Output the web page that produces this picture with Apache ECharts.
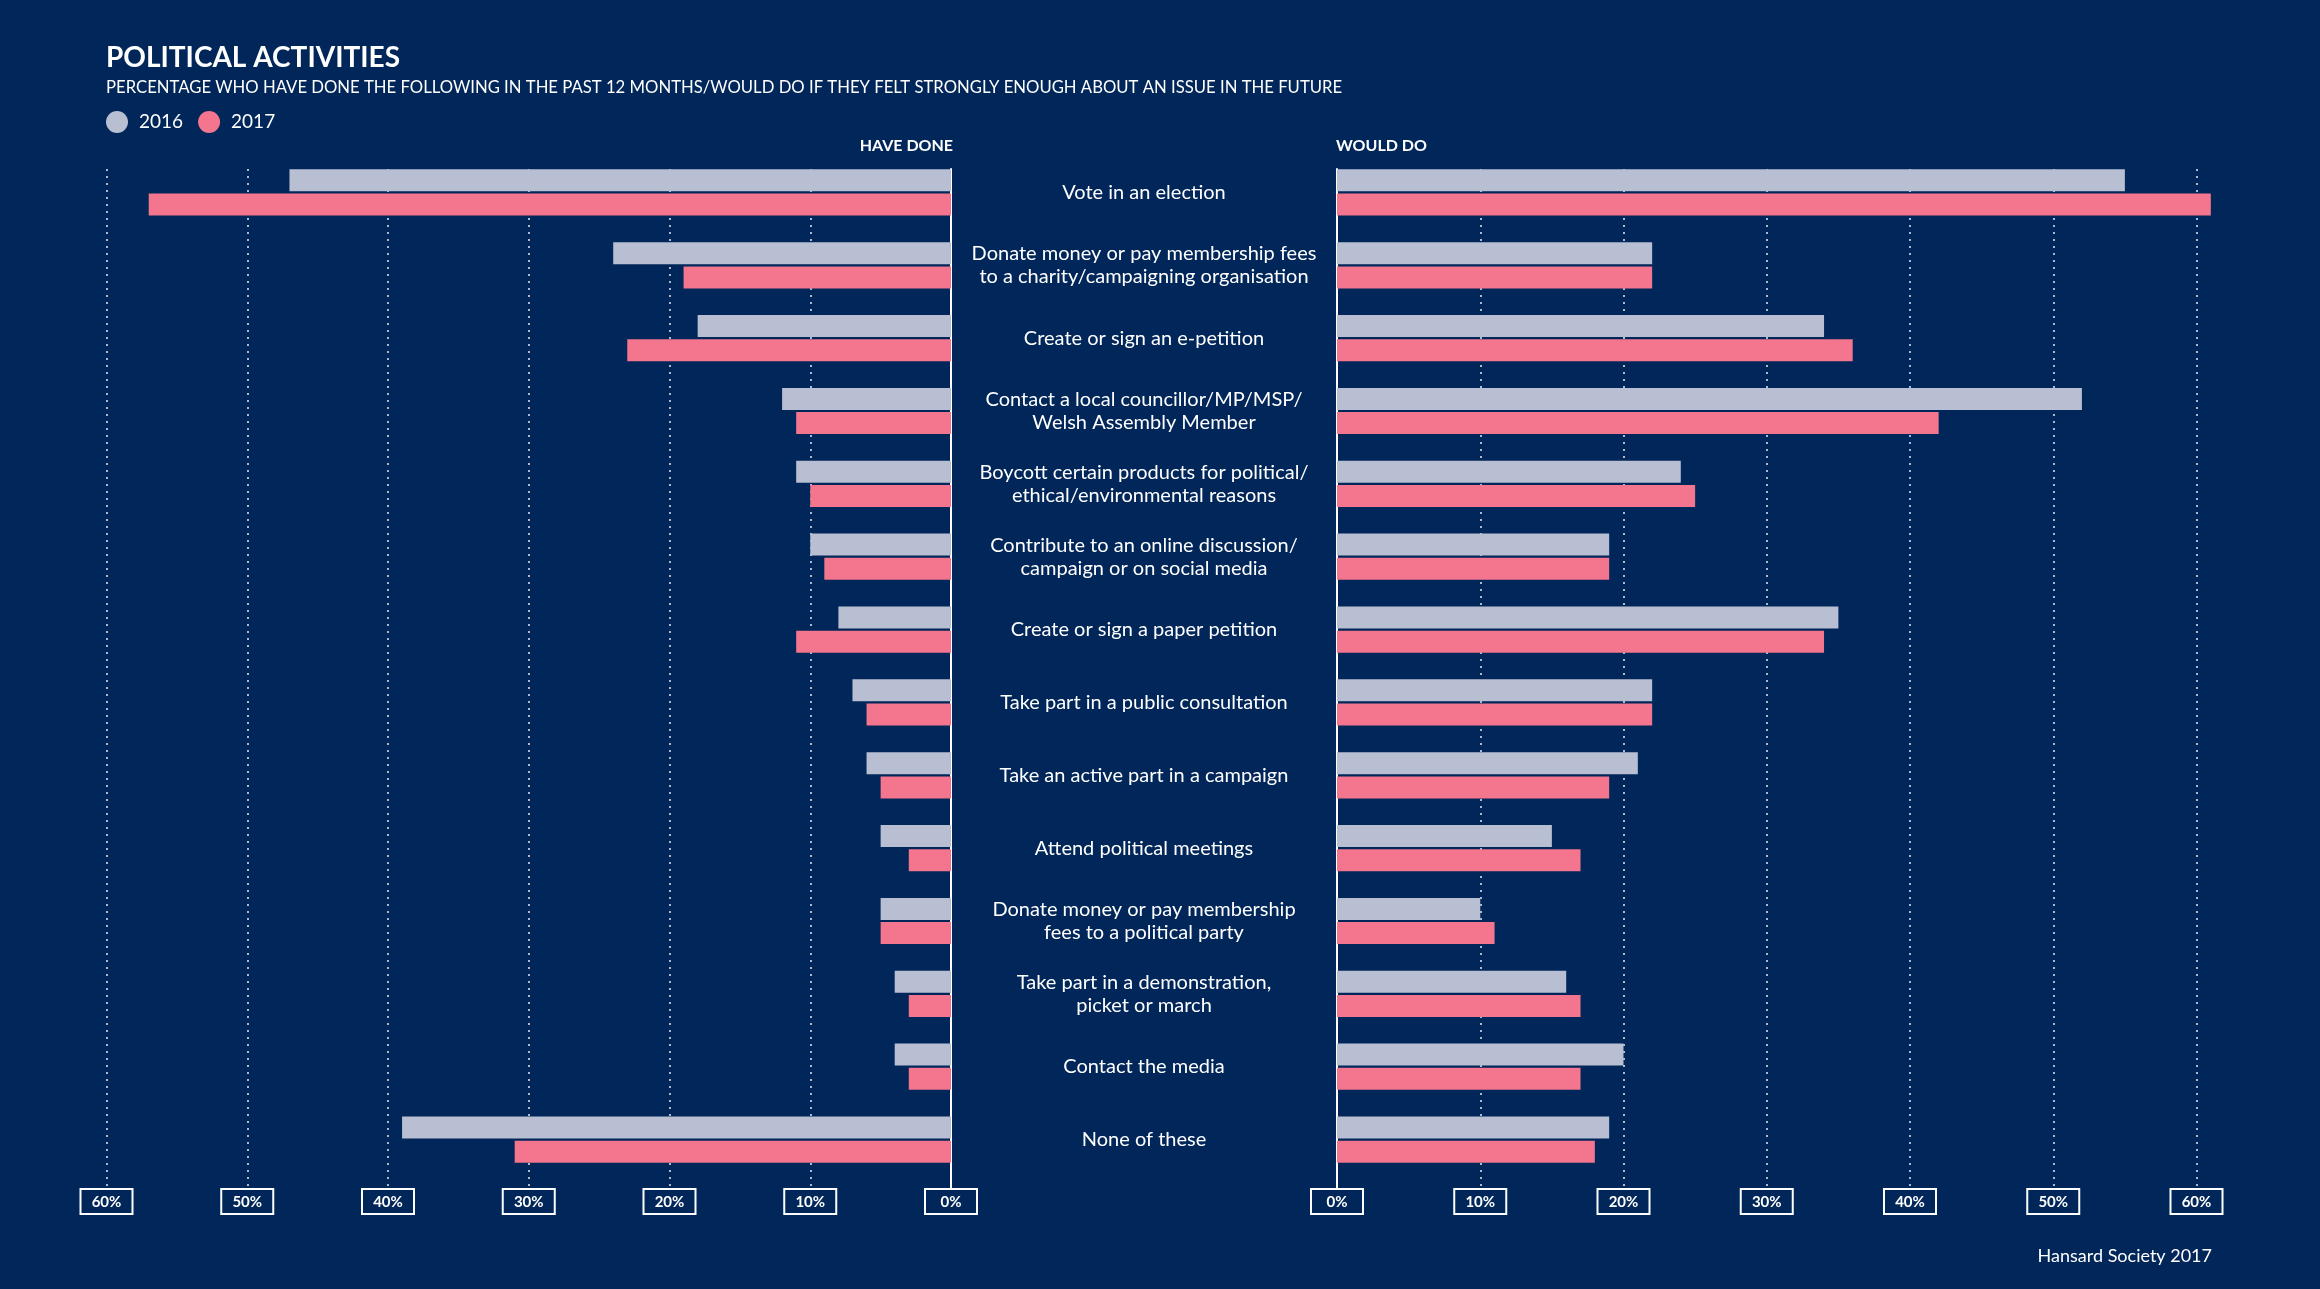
<!DOCTYPE html>
<html>
<head>
<meta charset="utf-8">
<script src="https://cdn.jsdelivr.net/npm/echarts@6/dist/echarts.min.js"></script>
<style>
html,body{margin:0;padding:0;background:#012659;}
#chart{width:2320px;height:1289px;}
</style>
</head>
<body>
<div id="chart"></div>
<script>
const categories = [
  'Vote in an election',
  'Donate money or pay membership fees\nto a charity/campaigning organisation',
  'Create or sign an e-petition',
  'Contact a local councillor/MP/MSP/\nWelsh Assembly Member',
  'Boycott certain products for political/\nethical/environmental reasons',
  'Contribute to an online discussion/\ncampaign or on social media',
  'Create or sign a paper petition',
  'Take part in a public consultation',
  'Take an active part in a campaign',
  'Attend political meetings',
  'Donate money or pay membership\nfees to a political party',
  'Take part in a demonstration,\npicket or march',
  'Contact the media',
  'None of these'
];
const haveDone2016 = [47, 24, 18, 12, 11, 10, 8, 7, 6, 5, 5, 4, 4, 39];
const haveDone2017 = [57, 19, 23, 11, 10, 9, 11, 6, 5, 3, 5, 3, 3, 31];
const wouldDo2016 = [55, 22, 34, 52, 24, 19, 35, 22, 21, 15, 10, 16, 20, 19];
const wouldDo2017 = [61, 22, 36, 42, 25, 19, 34, 22, 19, 17, 11, 17, 17, 18];
const seriesNames = ['2016', '2017'];
const tickMin = 0, tickMax = 60, tickStep = 10;

const BG = '#012659';
const GRAY = '#b8bfd3';
const PINK = '#f3758e';
const FONT = 'Lato';

const chart = echarts.init(document.getElementById('chart'));

// right panel: 0% at x=1337, 60% at x=2196.5 -> extend bar grid to 65% so bars over 60 are not clipped
const R0 = 1337, R60 = 2196.5;
const rPer = (R60 - R0) / 60;
const rBarMax = 65;
const rBarRight = 2320 - (R0 + rPer * rBarMax);

function decorX(gridIndex, inverse) {
  return {
    type: 'value', gridIndex: gridIndex, min: tickMin, max: tickMax, interval: tickStep, inverse: inverse,
    axisLine: {show: false}, axisTick: {show: false},
    splitLine: {show: true, lineStyle: {color: 'rgba(255,255,255,0.9)', width: 1.5, type: [2, 5]}},
    axisLabel: {
      show: true, formatter: '{value}%', color: '#fff', fontFamily: FONT, fontWeight: 'bold',
      fontSize: 15, lineHeight: 16, margin: 0, borderColor: '#fff', borderWidth: 2,
      width: 32, align: 'center',
      padding: [4, 9, 3, 9], backgroundColor: BG, showMinLabel: true, showMaxLabel: true
    }
  };
}
function decorY(gridIndex, pos) {
  return {
    type: 'value', gridIndex: gridIndex, min: 0, max: 1, position: pos,
    axisLine: {show: true, onZero: false, lineStyle: {color: '#fff', width: 2}},
    axisTick: {show: false}, axisLabel: {show: false}, splitLine: {show: false}
  };
}

const option = {
  backgroundColor: BG,
  animation: false,
  textStyle: {fontFamily: FONT},
  title: [
    {text: 'POLITICAL ACTIVITIES', left: 106, top: 44, padding: 0,
     textStyle: {color: '#fff', fontFamily: FONT, fontWeight: 'bold', fontSize: 28}},
    {text: 'PERCENTAGE WHO HAVE DONE THE FOLLOWING IN THE PAST 12 MONTHS/WOULD DO IF THEY FELT STRONGLY ENOUGH ABOUT AN ISSUE IN THE FUTURE',
     left: 106, top: 79, padding: 0,
     textStyle: {color: '#fff', fontFamily: FONT, fontWeight: 'normal', fontSize: 16.7}},
    {text: 'HAVE DONE', right: 2320 - 953, top: 138, padding: 0,
     textStyle: {color: '#fff', fontFamily: FONT, fontWeight: 'bold', fontSize: 16}},
    {text: 'WOULD DO', left: 1336, top: 138, padding: 0,
     textStyle: {color: '#fff', fontFamily: FONT, fontWeight: 'bold', fontSize: 16}},
    {text: 'Hansard Society 2017', right: 108, top: 1247, padding: 0,
     textStyle: {color: '#fff', fontFamily: FONT, fontWeight: 'normal', fontSize: 18}}
  ],
  legend: {
    data: seriesNames, left: 106, top: 111, padding: 0, icon: 'circle',
    itemWidth: 22, itemHeight: 22, itemGap: 15,
    textStyle: {color: '#fff', fontFamily: FONT, fontSize: 19, padding: [0, 0, 0, 6]}
  },
  grid: [
    {left: 106.5, right: 1369, top: 156, bottom: 113},
    {left: R0, right: rBarRight, top: 156, bottom: 113},
    {left: 106.5, right: 1369, top: 169, bottom: 99},
    {left: R0, right: 2320 - R60, top: 169, bottom: 99}
  ],
  xAxis: [
    {type: 'value', gridIndex: 0, min: tickMin, max: tickMax, inverse: true, show: false},
    {type: 'value', gridIndex: 1, min: tickMin, max: rBarMax, show: false},
    decorX(2, true),
    decorX(3, false)
  ],
  yAxis: [
    {type: 'category', gridIndex: 0, data: categories, inverse: true, show: false},
    {type: 'category', gridIndex: 1, data: categories, inverse: true, position: 'left',
     axisLine: {show: false}, axisTick: {show: false}, splitLine: {show: false},
     axisLabel: {show: true, color: '#fff', fontFamily: FONT, fontSize: 20, lineHeight: 23,
                 align: 'center', margin: 193, interval: 0}},
    decorY(2, 'right'),
    decorY(3, 'left')
  ],
  series: [
    {name: seriesNames[0], type: 'bar', xAxisIndex: 0, yAxisIndex: 0, data: haveDone2016,
     barWidth: 22, barGap: '10%', itemStyle: {color: GRAY}},
    {name: seriesNames[1], type: 'bar', xAxisIndex: 0, yAxisIndex: 0, data: haveDone2017,
     barWidth: 22, barGap: '10%', itemStyle: {color: PINK}},
    {name: seriesNames[0], type: 'bar', xAxisIndex: 1, yAxisIndex: 1, data: wouldDo2016,
     barWidth: 22, barGap: '10%', itemStyle: {color: GRAY}},
    {name: seriesNames[1], type: 'bar', xAxisIndex: 1, yAxisIndex: 1, data: wouldDo2017,
     barWidth: 22, barGap: '10%', itemStyle: {color: PINK}}
  ]
};
chart.setOption(option);
</script>
</body>
</html>
